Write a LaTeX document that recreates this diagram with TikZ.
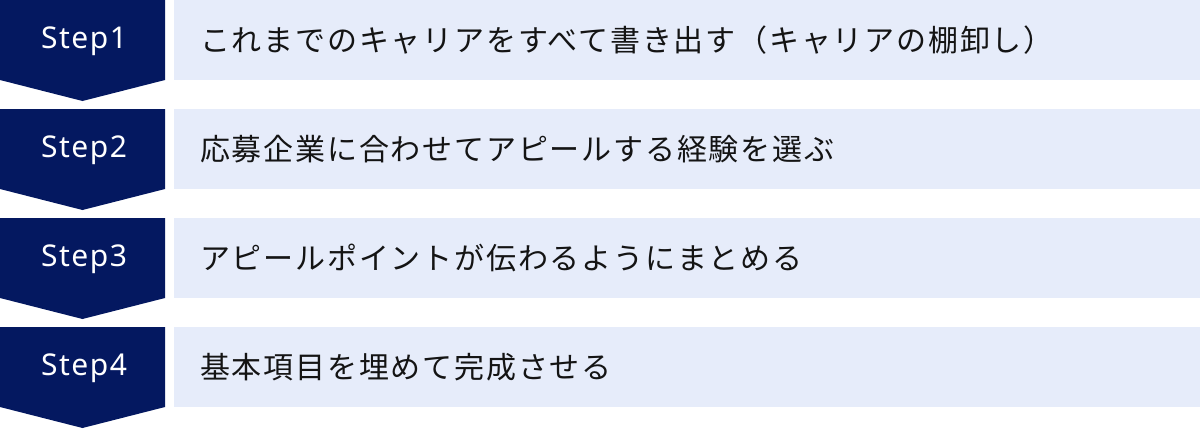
\documentclass[tikz,border=0pt]{standalone}
\usepackage{fontspec}
\newfontfamily\jpfont{Noto Sans CJK JP}[LetterSpace=6]
\newfontfamily\stepfont{Noto Sans}[LetterSpace=5]
\definecolor{navy}{RGB}{4,24,96}
\definecolor{lightbg}{RGB}{230,236,250}
\definecolor{txt}{RGB}{20,20,20}
\tikzset{
  chev/.style={fill=navy},
  band/.style={fill=lightbg},
  steplabel/.style={text=white,font=\stepfont\fontsize{30}{32}\selectfont,inner sep=0pt,anchor=center},
  desc/.style={text=txt,font=\jpfont\fontsize{30}{32}\selectfont,inner sep=0pt,anchor=west}
}
\begin{document}
\begin{tikzpicture}[x=1pt,y=-1pt]
\useasboundingbox (0,0) rectangle (1200,429);
\foreach \i/\lab/\txt in {0/Step1/これまでのキャリアをすべて書き出す（キャリアの棚卸し）,1/Step2/応募企業に合わせてアピールする経験を選ぶ,2/Step3/アピールポイントが伝わるようにまとめる,3/Step4/基本項目を埋めて完成させる}{
  \pgfmathsetmacro{\t}{\i*109}
  \fill[chev] (0,\t) -- (165,\t) -- (165,\t+80) -- (82.5,\t+101) -- (0,\t+80) -- cycle;
  \fill[band] (174,\t) rectangle (1200,\t+80);
  \node[steplabel] (s\i) at (84,\t+41) {\lab};
  \node[desc] (d\i) at (200,\t+40) {\txt};
}
\end{tikzpicture}
\end{document}
